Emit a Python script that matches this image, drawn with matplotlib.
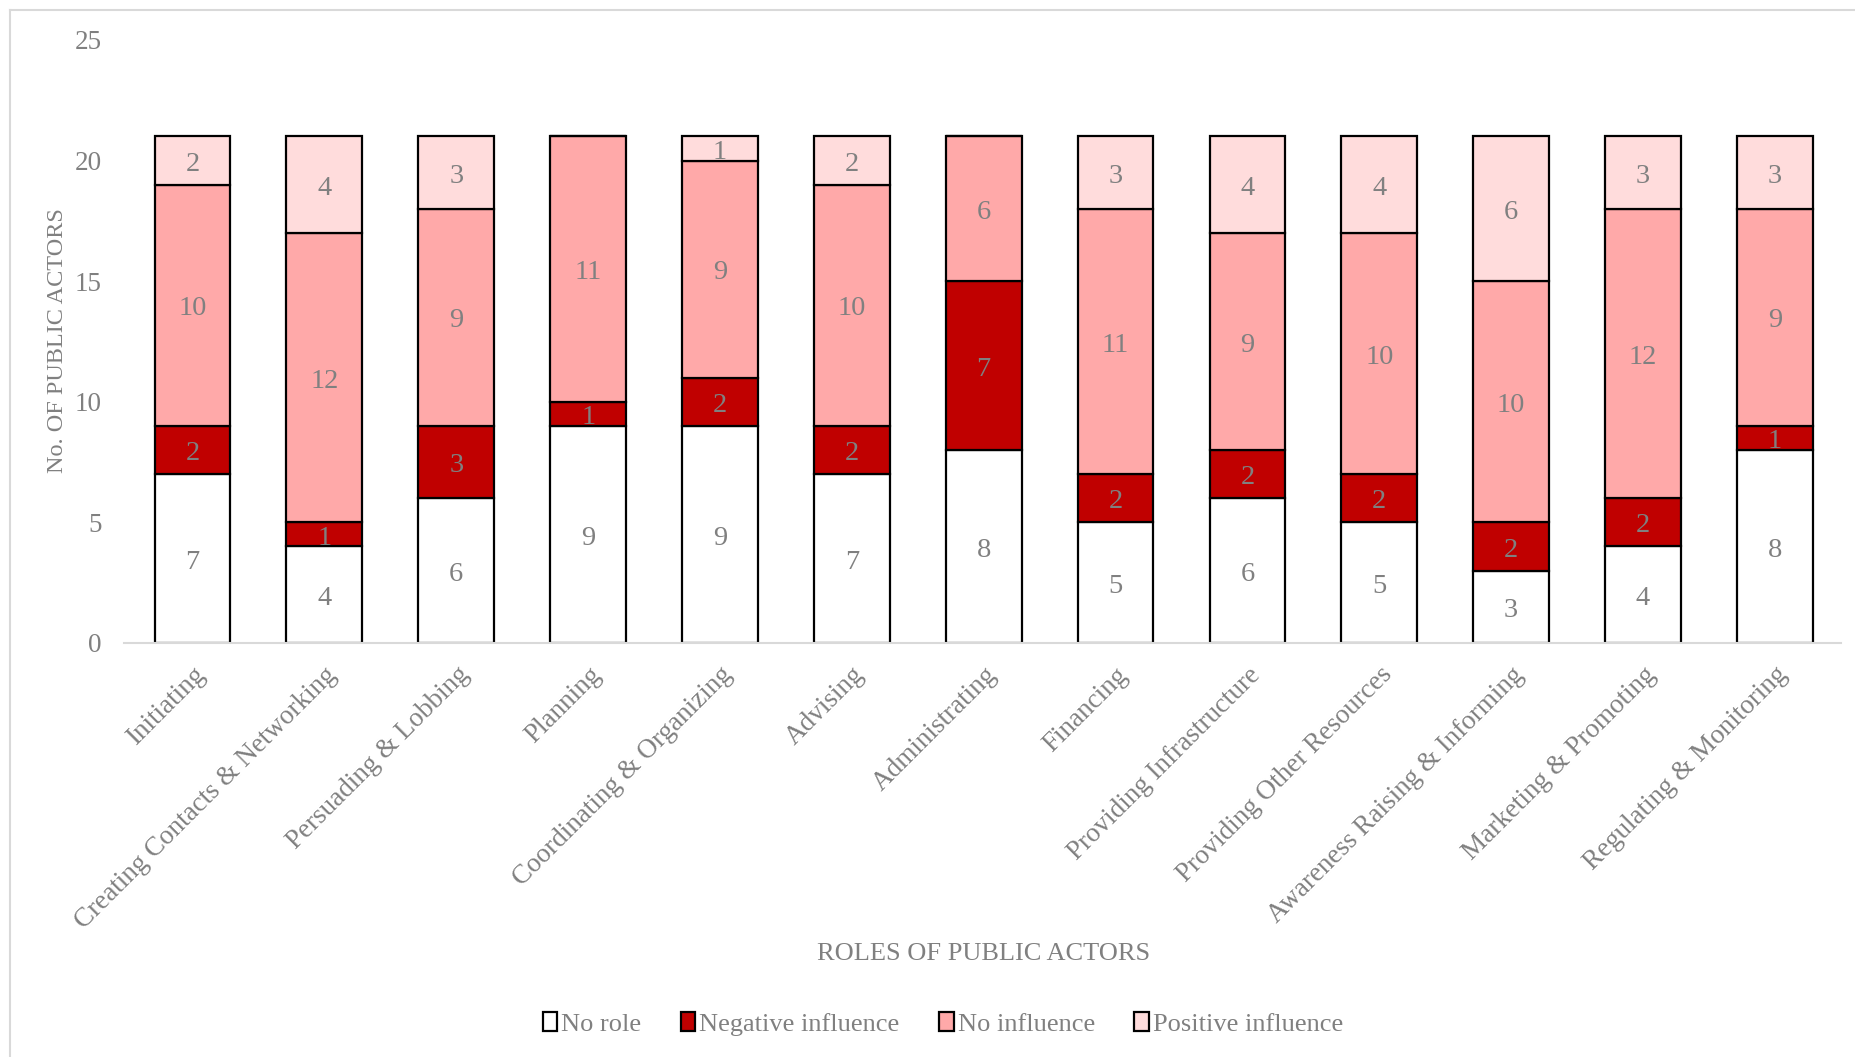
import matplotlib.pyplot as plt
import numpy as np

roles = ['Initiating', 'Creating Contacts & Networking', 'Persuading & Lobbing',
         'Planning', 'Coordinating & Organizing', 'Advising', 'Administrating',
         'Financing', 'Providing Infrastructure', 'Providing Other Resources',
         'Awareness Raising & Informing', 'Marketing & Promoting',
         'Regulating & Monitoring']

no_role = [7, 4, 6, 9, 9, 7, 8, 5, 6, 5, 3, 4, 8]
negative = [2, 1, 3, 1, 2, 2, 7, 2, 2, 2, 2, 2, 1]
no_influence = [10, 12, 9, 11, 9, 10, 6, 11, 9, 10, 10, 12, 9]
positive = [2, 4, 3, 0, 1, 2, 0, 3, 4, 4, 6, 3, 3]

series = [('No role', no_role, '#FFFFFF'),
          ('Negative influence', negative, '#C00000'),
          ('No influence', no_influence, '#FFA9A9'),
          ('Positive influence', positive, '#FFDCDC')]

grey = '#808080'
plt.rcParams['font.family'] = ['Liberation Serif', 'DejaVu Serif']

fig = plt.figure(figsize=(18.56, 10.57), dpi=100)
ax = fig.add_axes([0.0668, 0.3917, 0.925, 0.5705])

x = np.arange(len(roles))
bottom = np.zeros(len(roles))
for name, vals, col in series:
    vals = np.array(vals)
    bars = ax.bar(x, vals, 0.575, bottom=bottom, color=col, edgecolor='black',
                  linewidth=1.6, label=name)
    for b, v, b0 in zip(bars, vals, bottom):
        if v > 0:
            ax.text(b.get_x() + b.get_width() / 2, b0 + v / 2 - 0.15, str(v),
                    ha='center', va='center', fontsize=20.5, color=grey)
    bottom += vals

ax.set_xlim(-0.52, 12.5)
ax.set_ylim(0, 25)
ax.set_yticks([0, 5, 10, 15, 20, 25])
ax.set_xticks(x)
ax.set_xticklabels(roles, rotation=45, ha='right', va='top', rotation_mode='anchor')
ax.tick_params(axis='both', length=0, labelsize=19.5, colors=grey)
ax.tick_params(axis='x', pad=14)
ax.tick_params(axis='y', pad=16)

for s in ['top', 'right', 'left']:
    ax.spines[s].set_visible(False)
ax.spines['bottom'].set_color('#D9D9D9')
ax.spines['bottom'].set_linewidth(1.5)

fig.text(0.031, 0.678, 'No. OF PUBLIC ACTORS', rotation=90, ha='center', va='center',
         fontsize=17.5, color=grey)
fig.text(0.530, 0.097, 'ROLES OF PUBLIC ACTORS', ha='center', va='center',
         fontsize=19, color=grey)

ax.legend(loc='center', bbox_to_anchor=(0.508, 0.031), bbox_transform=fig.transFigure,
          ncol=4, frameon=False, fontsize=19, labelcolor=grey, handlelength=0.55,
          handleheight=0.7, handletextpad=0.15, columnspacing=1.5)

# light chart-area border
fig.add_artist(plt.Line2D([0.0054, 0.0054], [0, 0.991], color='#D9D9D9', lw=1.5))
fig.add_artist(plt.Line2D([0.0054, 1], [0.991, 0.991], color='#D9D9D9', lw=1.5))

fig.savefig('out.png', dpi=100)
